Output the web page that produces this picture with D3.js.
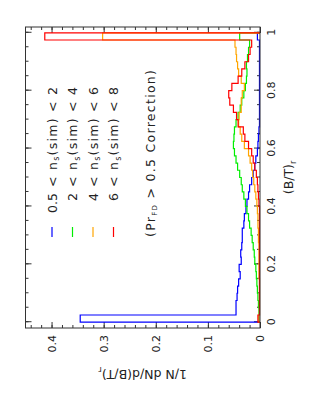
<!DOCTYPE html>
<html>
<head>
<meta charset="utf-8">
<script src="https://cdn.jsdelivr.net/npm/d3@7"></script>
<style>
body { margin: 0; background: #fff; }
text { font-family: "DejaVu Sans", sans-serif; fill: #222; }
</style>
</head>
<body>
<div id="chart"></div>
<script>
// bin edges of (B/T)_r
var binEdges = [0, 0.025, 0.05, 0.075, 0.1, 0.125, 0.15, 0.175, 0.2, 0.225, 0.25, 0.275, 0.3, 0.325, 0.35, 0.375,
  0.4, 0.425, 0.45, 0.475, 0.5, 0.525, 0.55, 0.575, 0.6, 0.625, 0.65, 0.675, 0.7, 0.725, 0.75, 0.775,
  0.8, 0.825, 0.85, 0.875, 0.9, 0.925, 0.95, 0.975, 1];

var blueVals = [0.345, 0.046, 0.046, 0.044, 0.043, 0.041, 0.038, 0.040, 0.036, 0.037, 0.035, 0.034, 0.034, 0.031, 0.030, 0.027,
  0.025, 0.022, 0.020, 0.016, 0.013, 0.010, 0.008, 0.005, 0.004, 0.003, 0.002, 0.001, 0.001, 0.001, 0.001, 0.001,
  0.001, 0.001, 0.001, 0.001, 0.001, 0.001, 0.001, 0.005];
var greenVals = [0.002, 0.002, 0.003, 0.004, 0.005, 0.006, 0.007, 0.008, 0.010, 0.011, 0.013, 0.015, 0.017, 0.020, 0.022, 0.025,
  0.028, 0.031, 0.034, 0.036, 0.039, 0.043, 0.046, 0.049, 0.051, 0.050, 0.049, 0.046, 0.042, 0.038, 0.035, 0.031,
  0.028, 0.026, 0.025, 0.026, 0.024, 0.022, 0.020, 0.039];
var orangeVals = [0.002, 0.001, 0.001, 0.001, 0.001, 0.001, 0.002, 0.002, 0.002, 0.002, 0.002, 0.003, 0.003, 0.004, 0.004, 0.005,
  0.006, 0.008, 0.010, 0.012, 0.014, 0.016, 0.019, 0.022, 0.030, 0.035, 0.038, 0.041, 0.040, 0.036, 0.036, 0.034,
  0.030, 0.036, 0.041, 0.043, 0.045, 0.046, 0.048, 0.302];
var redVals = [0.004, 0.001, 0.001, 0.001, 0.001, 0.001, 0.001, 0.001, 0.001, 0.001, 0.001, 0.001, 0.001, 0.001, 0.001, 0.001,
  0.002, 0.003, 0.004, 0.005, 0.007, 0.010, 0.013, 0.016, 0.022, 0.029, 0.032, 0.042, 0.045, 0.051, 0.058, 0.060,
  0.054, 0.042, 0.035, 0.029, 0.022, 0.019, 0.016, 0.413];

var seriesNames = ["blue", "green", "orange", "red"];
var seriesColors = ["#0000ff", "#00ee00", "#ffa500", "#ff0000"];
var lowBounds = ["0.5", "2", "4", "6"];
var highBounds = ["2", "4", "6", "8"];

var xMajor = [0, 0.2, 0.4, 0.6, 0.8, 1];
var xMinor = [0, 0.05, 0.1, 0.15, 0.2, 0.25, 0.3, 0.35, 0.4, 0.45, 0.5, 0.55, 0.6, 0.65, 0.7, 0.75, 0.8, 0.85, 0.9, 0.95, 1];
var yMajor = [0, 0.1, 0.2, 0.3, 0.4];
var yMinor = [0, 0.02, 0.04, 0.06, 0.08, 0.1, 0.12, 0.14, 0.16, 0.18, 0.2, 0.22, 0.24, 0.26, 0.28, 0.3, 0.32, 0.34, 0.36, 0.38, 0.4, 0.42, 0.44];

var pageWidth = 315;
var pageHeight = 407;

// the plot is drawn landscape, then turned a quarter turn onto the page
var plotW = 407, plotH = 315;
var margin = {left: 79, right: 27, top: 25.5, bottom: 55};

var svg = d3.select("#chart").append("svg")
  .attr("width", pageWidth)
  .attr("height", pageHeight);

svg.append("rect").attr("width", pageWidth).attr("height", pageHeight).attr("fill", "#fff");

var g = svg.append("g")
  .attr("transform", `translate(0,${pageHeight}) rotate(-90)`);

var xScale = d3.scaleLinear()
  .domain([-0.02, 1.02])
  .range([margin.left, plotW - margin.right]);

var yScale = d3.scaleLinear()
  .domain([0, 0.45])
  .range([plotH - margin.bottom, margin.top]);

var x0 = xScale.range()[0], x1 = xScale.range()[1];
var yB = yScale.range()[0], yT = yScale.range()[1];

var fmt = d => d === 0 ? "0" : d === 1 ? "1" : String(d);

function styleAxis(sel) {
  sel.select(".domain").remove();
  sel.selectAll("line").attr("stroke", "#333").attr("stroke-width", 1);
  sel.selectAll("text").style("font-family", "DejaVu Sans, sans-serif").style("font-size", "11px").attr("fill", "#222");
}

// bottom
g.append("g").attr("transform", `translate(0,${yB})`)
  .call(d3.axisBottom(xScale).tickValues(xMajor).tickSize(-6).tickPadding(7).tickFormat(fmt)).call(styleAxis);
g.append("g").attr("transform", `translate(0,${yB})`)
  .call(d3.axisBottom(xScale).tickValues(xMinor).tickSize(-3).tickFormat("")).call(styleAxis);
// top
g.append("g").attr("transform", `translate(0,${yT})`)
  .call(d3.axisTop(xScale).tickValues(xMajor).tickSize(-6).tickFormat("")).call(styleAxis);
g.append("g").attr("transform", `translate(0,${yT})`)
  .call(d3.axisTop(xScale).tickValues(xMinor).tickSize(-3).tickFormat("")).call(styleAxis);
// left
g.append("g").attr("transform", `translate(${x0},0)`)
  .call(d3.axisLeft(yScale).tickValues(yMajor).tickSize(-6).tickPadding(7).tickFormat(fmt)).call(styleAxis);
g.append("g").attr("transform", `translate(${x0},0)`)
  .call(d3.axisLeft(yScale).tickValues(yMinor).tickSize(-3).tickFormat("")).call(styleAxis);
// right
g.append("g").attr("transform", `translate(${x1},0)`)
  .call(d3.axisRight(yScale).tickValues(yMajor).tickSize(-6).tickFormat("")).call(styleAxis);
g.append("g").attr("transform", `translate(${x1},0)`)
  .call(d3.axisRight(yScale).tickValues(yMinor).tickSize(-3).tickFormat("")).call(styleAxis);

var allVals = [blueVals, greenVals, orangeVals, redVals];

var stepLine = d3.line()
  .x(d => xScale(d[0]))
  .y(d => yScale(d[1]))
  .curve(d3.curveStepAfter);

allVals.forEach(function(vals, i) {
  var pts = [[binEdges[0], 0]];
  vals.forEach(function(v, j) { pts.push([binEdges[j], v]); });
  pts.push([binEdges[binEdges.length - 1], vals[vals.length - 1]]);
  pts.push([binEdges[binEdges.length - 1], 0]);
  g.append("path")
    .attr("d", stepLine(pts))
    .attr("fill", "none")
    .attr("stroke", seriesColors[i])
    .attr("stroke-width", 1.2);
});

// frame
g.append("rect")
  .attr("x", x0).attr("y", yT)
  .attr("width", x1 - x0).attr("height", yB - yT)
  .attr("fill", "none").attr("stroke", "#333").attr("stroke-width", 1);

// legend
var legendRows = [52, 72.5, 93, 113.5];
seriesColors.forEach(function(c, i) {
  var yy = legendRows[i];
  g.append("line")
    .attr("x1", 170).attr("x2", 180)
    .attr("y1", yy).attr("y2", yy)
    .attr("stroke", c).attr("stroke-width", 1.2);
  g.append("text")
    .attr("x", 214).attr("y", yy + 4.5)
    .attr("text-anchor", "end")
    .style("font-size", "12.5px")
    .text(lowBounds[i]);
  var t = g.append("text")
    .attr("x", 220).attr("y", yy + 4.5)
    .attr("textLength", 100)
    .attr("lengthAdjust", "spacing")
    .style("font-size", "12.5px");
  t.append("tspan").text("<  n");
  t.append("tspan").attr("dy", 2.5).style("font-size", "8px").text("s");
  t.append("tspan").attr("dy", -2.5).text("(sim)  <  " + highBounds[i]);
});

var note = g.append("text")
  .attr("x", 170).attr("y", 154.5)
  .attr("textLength", 167)
  .attr("lengthAdjust", "spacing")
  .style("font-size", "12.5px");
note.append("tspan").text("(Pr");
note.append("tspan").attr("dy", 2.5).style("font-size", "7px").text("FD");
note.append("tspan").attr("dy", -2.5).text("  >  0.5  Correction)");

// axis titles
var xt = g.append("text")
  .attr("x", (x0 + x1) / 2).attr("y", 293)
  .attr("text-anchor", "middle")
  .style("font-size", "12.5px");
xt.append("tspan").text("(B/T)");
xt.append("tspan").attr("dy", 3).style("font-size", "8px").text("r");

var yt = g.append("text")
  .attr("transform", `translate(37,${(yT + yB) / 2}) rotate(-90)`)
  .attr("text-anchor", "middle")
  .style("font-size", "12.5px");
yt.append("tspan").text("1/N  dN/d(B/T)");
yt.append("tspan").attr("dy", 3).style("font-size", "8px").text("r");
</script>
</body>
</html>
